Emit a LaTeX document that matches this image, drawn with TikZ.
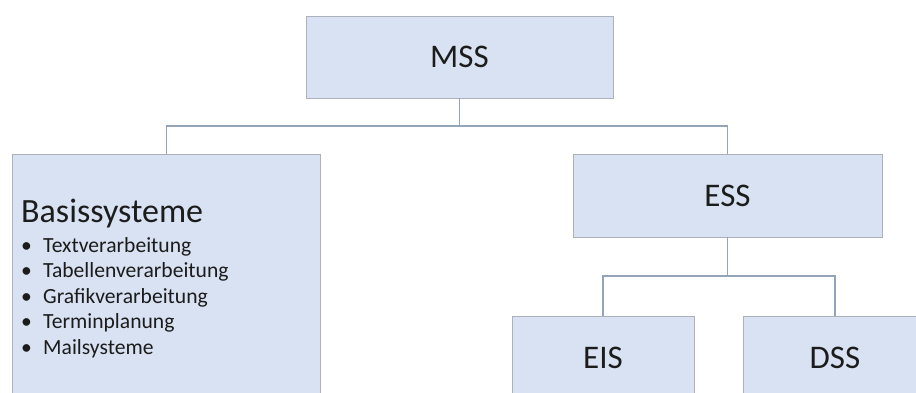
\documentclass[tikz,border=0pt]{standalone}
\usepackage{fontspec}
\setmainfont{Carlito}
\definecolor{boxfill}{HTML}{D9E2F2}
\definecolor{boxline}{HTML}{ADB2BA}
\definecolor{linkline}{HTML}{93A3B9}
\definecolor{ink}{HTML}{1C1C1C}
\begin{document}
\begin{tikzpicture}[x=1pt,y=-1pt,
  orgbox/.style={draw=boxline,line width=0.9pt,fill=boxfill,rectangle,inner sep=0pt,
    text=ink,font=\fontsize{33}{36}\selectfont},
  link/.style={draw=linkline,line width=1.2pt},
  heading/.style={anchor=base west,inner sep=0pt,text=ink,font=\fontsize{34}{37}\selectfont},
  item/.style={anchor=base west,inner sep=0pt,text=ink,font=\fontsize{21.6}{24}\selectfont}]
\useasboundingbox (0,0) rectangle (916,392);
\clip (0,0) rectangle (916,392);
% boxes
\node[orgbox,minimum width=307pt,minimum height=82pt] (mss) at (459.5,57) {MSS};
\node[orgbox,minimum width=308pt,minimum height=250pt,anchor=north west] (basis) at (12,154) {};
\node[orgbox,minimum width=309pt,minimum height=83pt] (ess) at (727.5,195.5) {ESS};
\node[orgbox,minimum width=182pt,minimum height=84pt] (eis) at (603,358) {EIS};
\node[orgbox,minimum width=184pt,minimum height=84pt] (dss) at (835,358) {DSS};
% text of the left box
\node[heading] (bhead) at (21,222) {Basissysteme};
\foreach \y/\t [count=\i] in {252/Textverarbeitung,277.5/Tabellenverarbeitung,303/Grafikverarbeitung,328.5/Terminplanung,354/Mailsysteme}{
  \node[item] (bul\i) at (21,\y) {•};
  \node[item] (it\i) at (43,\y) {\t};
}
% connectors
\coordinate (j1) at (mss.south |- 0,126);
\coordinate (j2) at (ess.south |- 0,276);
\draw[link] (mss.south) -- (j1) -| (basis.north);
\draw[link] (j1) -| (ess.north);
\draw[link] (ess.south) -- (j2) -| (eis.north);
\draw[link] (j2) -| (dss.north);
\end{tikzpicture}
\end{document}
